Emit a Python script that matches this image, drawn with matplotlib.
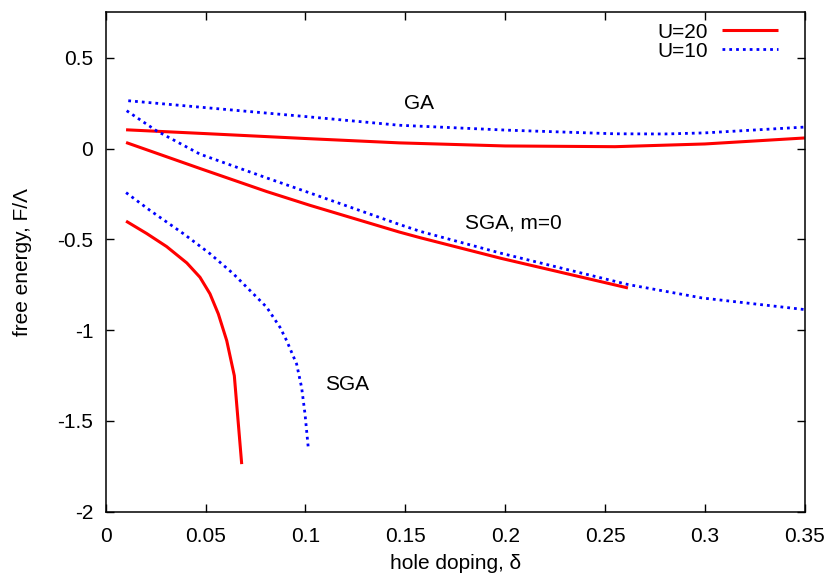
import matplotlib
matplotlib.use('Agg')
import matplotlib.pyplot as plt

plt.rcParams['font.family'] = ['Liberation Sans', 'DejaVu Sans']

# GA curves
ga20_x = [0.0102, 0.05, 0.10, 0.147, 0.20, 0.255, 0.30, 0.35]
ga20_y = [0.103, 0.082, 0.055, 0.031, 0.014, 0.010, 0.025, 0.058]
ga10_x = [0.0113, 0.05, 0.10, 0.147, 0.201, 0.255, 0.28, 0.30, 0.35]
ga10_y = [0.263, 0.225, 0.176, 0.128, 0.101, 0.081, 0.080, 0.086, 0.118]

# SGA, m=0
sgam20_x = [0.0102, 0.0472, 0.0806, 0.1023, 0.147, 0.1574, 0.198, 0.2615]
sgam20_y = [0.033, -0.110, -0.237, -0.313, -0.460, -0.491, -0.605, -0.768]
sgam10_x = [0.0105, 0.0255, 0.0472, 0.0806, 0.1023, 0.147, 0.1574, 0.198, 0.2615, 0.2986, 0.35]
sgam10_y = [0.208, 0.097, -0.031, -0.162, -0.245, -0.418, -0.456, -0.577, -0.749, -0.823, -0.887]

# SGA
sga20_x = [0.0102, 0.0205, 0.0305, 0.0406, 0.0472, 0.0522, 0.0564, 0.0606, 0.0644, 0.0681]
sga20_y = [-0.400, -0.468, -0.540, -0.630, -0.709, -0.800, -0.911, -1.058, -1.251, -1.738]
sga10_x = [0.0102, 0.0222, 0.0389, 0.0522, 0.0639, 0.0739, 0.0806, 0.0873, 0.0906,
           0.0956, 0.0981, 0.0998, 0.1015]
sga10_y = [-0.243, -0.341, -0.469, -0.579, -0.690, -0.800, -0.874, -0.985, -1.058,
           -1.187, -1.316, -1.462, -1.656]

xticks = [0, 0.05, 0.1, 0.15, 0.2, 0.25, 0.3, 0.35]
xticklabels = ['0', '0.05', '0.1', '0.15', '0.2', '0.25', '0.3', '0.35']
yticks = [-2, -1.5, -1, -0.5, 0, 0.5]
yticklabels = ['-2', '-1.5', '-1', '-0.5', '0', '0.5']

fig = plt.figure(figsize=(8.29, 5.73), dpi=100)
ax = fig.add_axes([105.7/829, 1-511.7/573, (804.7-105.7)/829, (511.7-12.3)/573])

red = dict(color='#ff0000', lw=2.2, solid_capstyle='butt', solid_joinstyle='round')
blue = dict(color='#0000ff', lw=2.0, dashes=(1.0, 1.45), dash_capstyle='butt')

ax.plot(ga20_x, ga20_y, label='U=20', **red)
ax.plot(ga10_x, ga10_y, label='U=10', **blue)
ax.plot(sgam20_x, sgam20_y, **red)
ax.plot(sgam10_x, sgam10_y, **blue)
ax.plot(sga20_x, sga20_y, **red)
ax.plot(sga10_x, sga10_y, **blue)

fs = 15
ax.text(0.157, 0.25, 'GA', fontsize=fs, ha='center', va='center')
ax.text(0.204, -0.41, 'SGA, m=0', fontsize=fs, ha='center', va='center')
ax.text(0.121, -1.30, 'SGA', fontsize=fs, ha='center', va='center')

ax.set_xlim(0, 0.35)
ax.set_ylim(-2, 0.75)
ax.set_xticks(xticks)
ax.set_xticklabels(xticklabels)
ax.set_yticks(yticks)
ax.set_yticklabels(yticklabels)
ax.tick_params(direction='in', length=5.5, width=1, top=True, right=True,
               labelsize=fs)
ax.tick_params(axis='x', pad=11)
ax.tick_params(axis='y', pad=9)
for s in ax.spines.values():
    s.set_linewidth(1.1)

ax.set_xlabel('hole doping, \u03b4', fontsize=fs, labelpad=6)
ax.set_ylabel('free energy, F/\u039b', fontsize=fs, labelpad=18)

ax.legend(loc='upper right', bbox_to_anchor=(0.962, 0.979), frameon=False,
          markerfirst=False, fontsize=fs, handlelength=2.7, handletextpad=0.67,
          labelspacing=0.0, borderaxespad=0.0, borderpad=0.0)

fig.savefig('out.png', dpi=100)
